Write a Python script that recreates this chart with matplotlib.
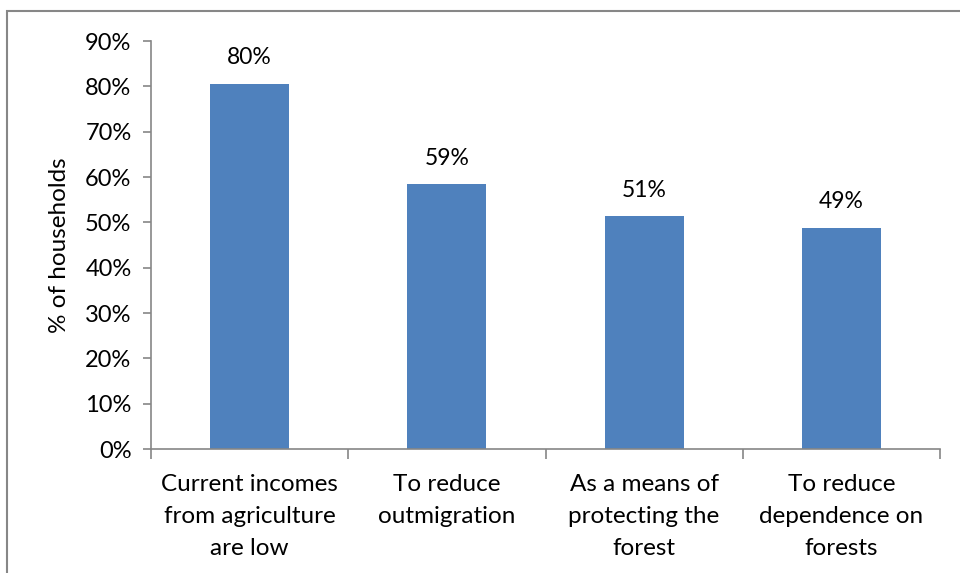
import matplotlib
matplotlib.use("Agg")
import matplotlib.pyplot as plt
from matplotlib.patches import Rectangle
from matplotlib.ticker import FuncFormatter

categories = ["Current incomes\nfrom agriculture\nare low",
              "To reduce\noutmigration",
              "As a means of\nprotecting the\nforest",
              "To reduce\ndependence on\nforests"]
values = [80.6, 58.5, 51.3, 48.8]
labels = ["80%", "59%", "51%", "49%"]
yticks = [0, 10, 20, 30, 40, 50, 60, 70, 80, 90]

plt.rcParams['font.family'] = ['Lato', 'DejaVu Sans']

W, H = 960, 573
fig = plt.figure(figsize=(W/100, H/100), dpi=100)
fig.patch.set_facecolor("white")

# outer chart border (only top and left visible in the reference)
fig.patches.append(Rectangle((6.5/W, -0.05), 1.2, 1 - 11/H + 0.05,
                             transform=fig.transFigure, fill=False,
                             edgecolor="#878787", linewidth=1.5))

left, right = 151/W, 940/W
bottom, top = 1 - 449/H, 1 - 41/H
ax = fig.add_axes([left, bottom, right - left, top - bottom])

x = list(range(len(categories)))
bars = ax.bar(x, values, width=0.4, color="#4F81BD", zorder=2)
for xi, v, lab in zip(x, values, labels):
    ax.annotate(lab, (xi, v), xytext=(0, 11), textcoords="offset points",
                ha="center", va="bottom", fontsize=16.5, color="black")

ax.set_xlim(-0.5, len(categories) - 0.5)
ax.set_ylim(0, 90)
ax.set_yticks(yticks)
ax.yaxis.set_major_formatter(FuncFormatter(lambda v, p: f"{int(v)}%"))
ax.set_xticks(x)
ax.set_xticklabels(categories, fontsize=17.5, linespacing=1.65)
ax.set_xticks([i - 0.5 for i in range(len(categories) + 1)], minor=True)

for s in ["top", "right"]:
    ax.spines[s].set_visible(False)
for s in ["left", "bottom"]:
    ax.spines[s].set_color("#868686")
    ax.spines[s].set_linewidth(1.2)

ax.tick_params(axis="y", direction="out", length=6, width=1.2, color="#868686",
               labelsize=17, pad=8)
ax.tick_params(axis="x", which="major", length=0, pad=18)
ax.tick_params(axis="x", which="minor", direction="out", length=7, width=1.2,
               color="#868686")

ax.set_ylabel("% of households", fontsize=17.5)
ax.yaxis.set_label_coords(-0.103, 0.5)

fig.savefig("out.png", dpi=100, facecolor="white")
